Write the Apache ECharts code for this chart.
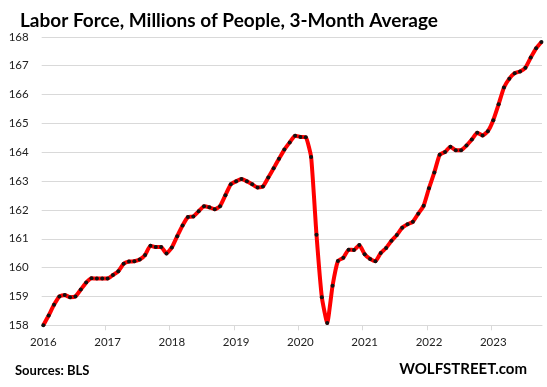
<!DOCTYPE html>
<html>
<head>
<meta charset="utf-8">
<script src="https://cdn.jsdelivr.net/npm/echarts@6/dist/echarts.min.js"></script>
<style>
html,body{margin:0;padding:0;background:#fff;}
#chart{width:547px;height:387px;}
</style>
</head>
<body>
<div id="chart"></div>
<script>
// Monthly, Jan 2016 .. Oct 2023 (index 0 = Jan 2016)
const startYear = 2016;
const yearLabels = ['2016','2017','2018','2019','2020','2021','2022','2023'];
const laborForce = [
  158.00,158.34,158.71,159.00,159.05,158.97,159.00,159.24,159.48,159.63,159.62,159.62,
  159.62,159.74,159.87,160.13,160.21,160.22,160.28,160.44,160.76,160.71,160.71,160.49,
  160.70,161.09,161.46,161.75,161.77,161.95,162.13,162.09,162.02,162.13,162.51,162.89,
  162.99,163.07,162.99,162.89,162.78,162.81,163.12,163.44,163.77,164.09,164.34,164.57,
  164.53,164.52,163.83,161.14,158.97,158.08,159.37,160.23,160.34,160.62,160.61,160.78,
  160.46,160.30,160.22,160.51,160.68,160.93,161.13,161.38,161.50,161.59,161.87,162.14,
  162.75,163.30,163.91,164.01,164.19,164.07,164.07,164.23,164.44,164.67,164.58,164.73,
  165.11,165.66,166.24,166.55,166.74,166.80,166.93,167.28,167.60,167.82
];
const yMin = 158, yMax = 168;

const chart = echarts.init(document.getElementById('chart'), null, {renderer:'canvas'});
const font = 'Lato, "Liberation Sans", sans-serif';
const labelVals = yearLabels.map((y,i)=>i*12);
const tickVals = yearLabels.map((y,i)=>i*12-0.4);

chart.setOption({
  animation:false,
  backgroundColor:'#fff',
  grid:{left:41.7, right:5, top:36.8, bottom:61.7},
  xAxis:{
    type:'value', min:-0.3, max:93.1,
    axisLine:{show:true, lineStyle:{color:'#d9d9d9', width:1}},
    axisTick:{show:true, length:5, lineStyle:{color:'#d9d9d9'}, customValues:tickVals},
    axisLabel:{customValues:labelVals, color:'#222', fontFamily:font, fontSize:11.5, margin:11,
      formatter:function(v){ return yearLabels[Math.round(v/12)] || ''; }},
    splitLine:{show:false}
  },
  yAxis:{
    type:'value', min:yMin, max:yMax, interval:1,
    axisLine:{show:false}, axisTick:{show:false},
    axisLabel:{color:'#222', fontFamily:font, fontSize:11.5, margin:13},
    splitLine:{lineStyle:{color:'#d9d9d9', width:1}}
  },
  series:[{
    type:'line',
    data: laborForce.map((v,i)=>[i,v]),
    smooth:0.15,
    lineStyle:{color:'#ff0000', width:4},
    symbol:'circle', symbolSize:4, showSymbol:true,
    itemStyle:{color:'#111', borderWidth:0},
    clip:false
  }],
  graphic:[
    {type:'text', left:20, top:11, style:{text:'Labor Force, Millions of People, 3-Month Average', font:'bold 19px '+font, fill:'#000'}},
    {type:'text', left:15, top:364, style:{text:'Sources: BLS', font:'bold 13px '+font, fill:'#000'}},
    {type:'text', right:20, top:362, style:{text:'WOLFSTREET.com', font:'bold 15px '+font, fill:'#000'}}
  ]
});
</script>
</body>
</html>
